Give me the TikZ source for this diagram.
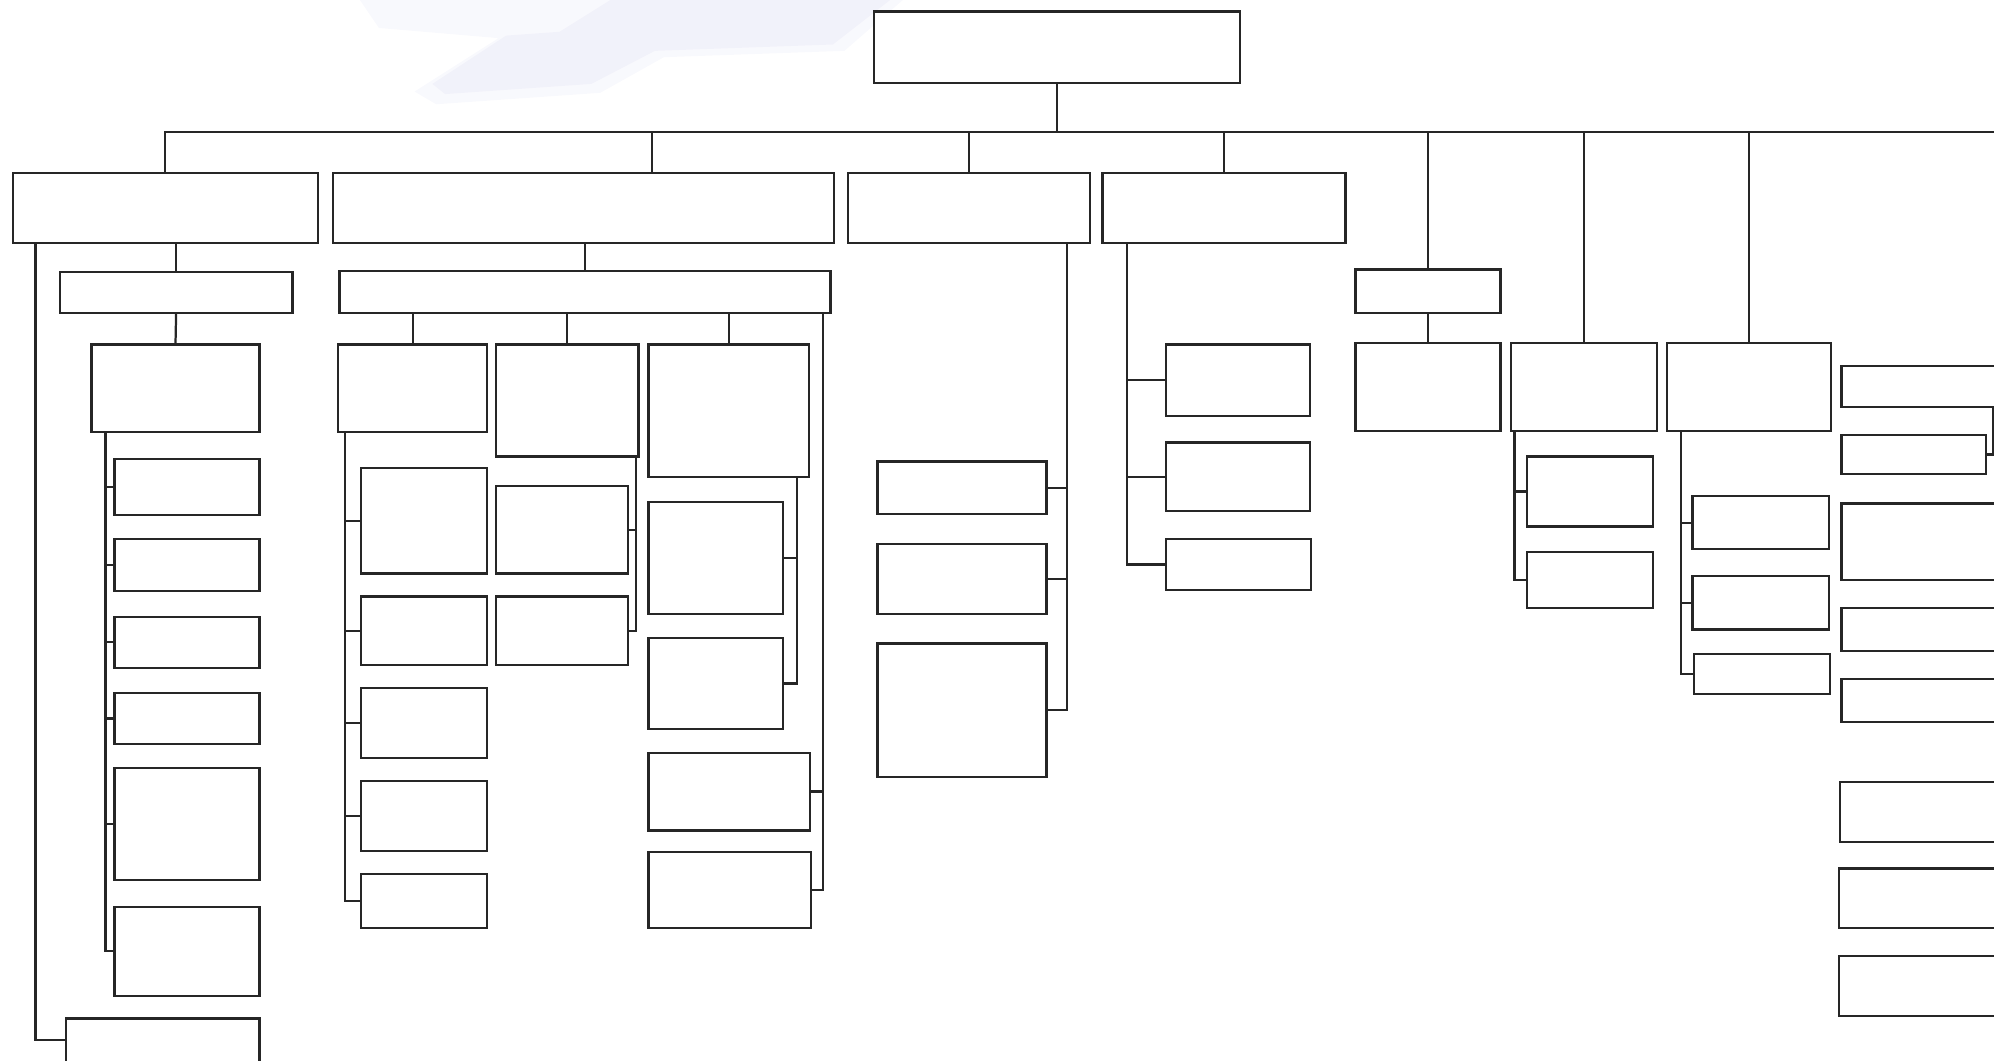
\documentclass[tikz,border=0pt]{standalone}
\usetikzlibrary{fit}
\definecolor{wmark}{RGB}{236,237,248}
\newcommand{\bx}[5]{\node[box,fit={(#2,#3) (#4,#5)}] (#1) {};}
\begin{document}
\begin{tikzpicture}[x=0.01cm,y=-0.01cm,
  box/.style={draw=black!85,line width=0.5pt,fill=white,inner sep=0pt,outer sep=0pt},
  link/.style={draw=black!85,line width=0.5pt},
  haze/.style={fill=wmark}]
  \useasboundingbox (0,0) rectangle (1568,834);
  \clip (0,0) rectangle (1568,834);
  % faint backdrop
  \fill[haze,opacity=.35] (283,0) -- (710,0) -- (664,40) -- (522,45) -- (472,73) -- (343,82) -- (326,72) -- (392,30) -- (298,22) -- cycle;
  \fill[haze,opacity=.6] (480,0) -- (700,0) -- (655,35) -- (515,40) -- (465,66) -- (350,74) -- (340,66) -- (398,28) -- (440,25) -- cycle;

  % top
  \bx{root}{687}{9}{975}{65}
  \bx{A}{10}{136}{250}{191}
  \bx{B}{262}{136}{656}{191}
  \bx{C}{667}{136}{857}{191}
  \bx{D}{867}{136}{1058}{191}
  \bx{E1}{1066}{212}{1180}{246}
  \bx{E2}{1066}{270}{1180}{339}
  \bx{F}{1188}{270}{1303}{339}
  \bx{G}{1311}{270}{1440}{339}
  \coordinate (bus) at (831,104);
  \draw[link] (root.south) -- (bus);
  \draw[link] (A.north) |- (1570,104);
  \draw[link] (513,104) -- (513,104 |- B.north);
  \foreach \n in {C,D,E1,F,G}
    \draw[link] (\n.north) -- (\n.north |- bus);
  \draw[link] (E1.south) -- (E2.north);

  % left column
  \bx{A1}{47}{214}{230}{246}
  \bx{A2}{72}{271}{204}{340}
  \draw[link] (A1.north) -- (A1.north |- A.south);
  \draw[link] (A1.south) -- (A2.north);
  \bx{A31}{90}{361}{204}{405}
  \bx{A32}{90}{424}{204}{465}
  \bx{A33}{90}{485}{204}{525}
  \bx{A34}{90}{545}{204}{585}
  \bx{A35}{90}{604}{204}{692}
  \bx{A36}{90}{713}{204}{783}
  \foreach \n in {1,...,6}
    \draw[link] (A2.south west) ++(11,0) |- (A3\n.west);
  \bx{A4}{52}{801}{204}{835}
  \draw[link] (A.south west) ++(18,0) |- (A4.west);

  % second column
  \bx{B1}{267}{213}{653}{246}
  \draw[link] (B1.north) -- (B1.north |- B.south);
  \bx{B11}{266}{271}{383}{340}
  \bx{B12}{390}{271}{502}{359}
  \bx{B13}{510}{271}{636}{375}
  \foreach \n in {B11,B12,B13}
    \draw[link] (\n.north) -- (\n.north |- B1.south);
  \bx{B14}{510}{592}{637}{653}
  \bx{B15}{510}{670}{638}{730}
  \foreach \n in {B14,B15}
    \draw[link] (B1.south east) ++(-6,0) |- (\n.east);
  \bx{B111}{284}{368}{383}{451}
  \bx{B112}{284}{469}{383}{523}
  \bx{B113}{284}{541}{383}{596}
  \bx{B114}{284}{614}{383}{669}
  \bx{B115}{284}{687}{383}{730}
  \foreach \n in {1,...,5}
    \draw[link] (B11.south west) ++(5,0) |- (B11\n.west);
  \bx{B121}{390}{382}{494}{451}
  \bx{B122}{390}{469}{494}{523}
  \foreach \n in {1,2}
    \draw[link] (B12.south east) ++(-2,0) |- (B12\n.east);
  \bx{B131}{510}{395}{616}{483}
  \bx{B132}{510}{502}{616}{573}
  \foreach \n in {1,2}
    \draw[link] (B13.south east) ++(-9,0) |- (B13\n.east);

  % third and fourth column
  \bx{C1}{690}{363}{823}{404}
  \bx{C2}{690}{428}{823}{483}
  \bx{C3}{690}{506}{823}{611}
  \foreach \n in {1,2,3}
    \draw[link] (C.south east) ++(-18,0) |- (C\n.east);
  \bx{D1}{917}{271}{1030}{327}
  \bx{D2}{917}{348}{1030}{402}
  \bx{D3}{917}{424}{1031}{464}
  \foreach \n in {1,2,3}
    \draw[link] (D.south west) ++(19,0) |- (D\n.west);

  % right part
  \bx{F1}{1201}{359}{1300}{414}
  \bx{F2}{1201}{434}{1300}{478}
  \foreach \n in {1,2}
    \draw[link] (F.south west) ++(3,0) |- (F\n.west);
  \bx{G1}{1331}{390}{1438}{432}
  \bx{G2}{1331}{453}{1438}{495}
  \bx{G3}{1332}{514}{1439}{546}
  \foreach \n in {1,2,3}
    \draw[link] (G.south west) ++(11,0) |- (G\n.west);

  \bx{H1}{1448}{288}{1620}{320}
  \bx{H2}{1448}{342}{1562}{373}
  \draw[link] (H1.south west) ++(119,0) |- (H2.east);
  \bx{H3}{1448}{396}{1620}{456}
  \bx{H4}{1448}{478}{1620}{512}
  \bx{H5}{1448}{534}{1620}{568}
  \bx{H6}{1447}{615}{1620}{662}
  \bx{H7}{1446}{683}{1620}{730}
  \bx{H8}{1446}{752}{1620}{799}
\end{tikzpicture}
\end{document}
